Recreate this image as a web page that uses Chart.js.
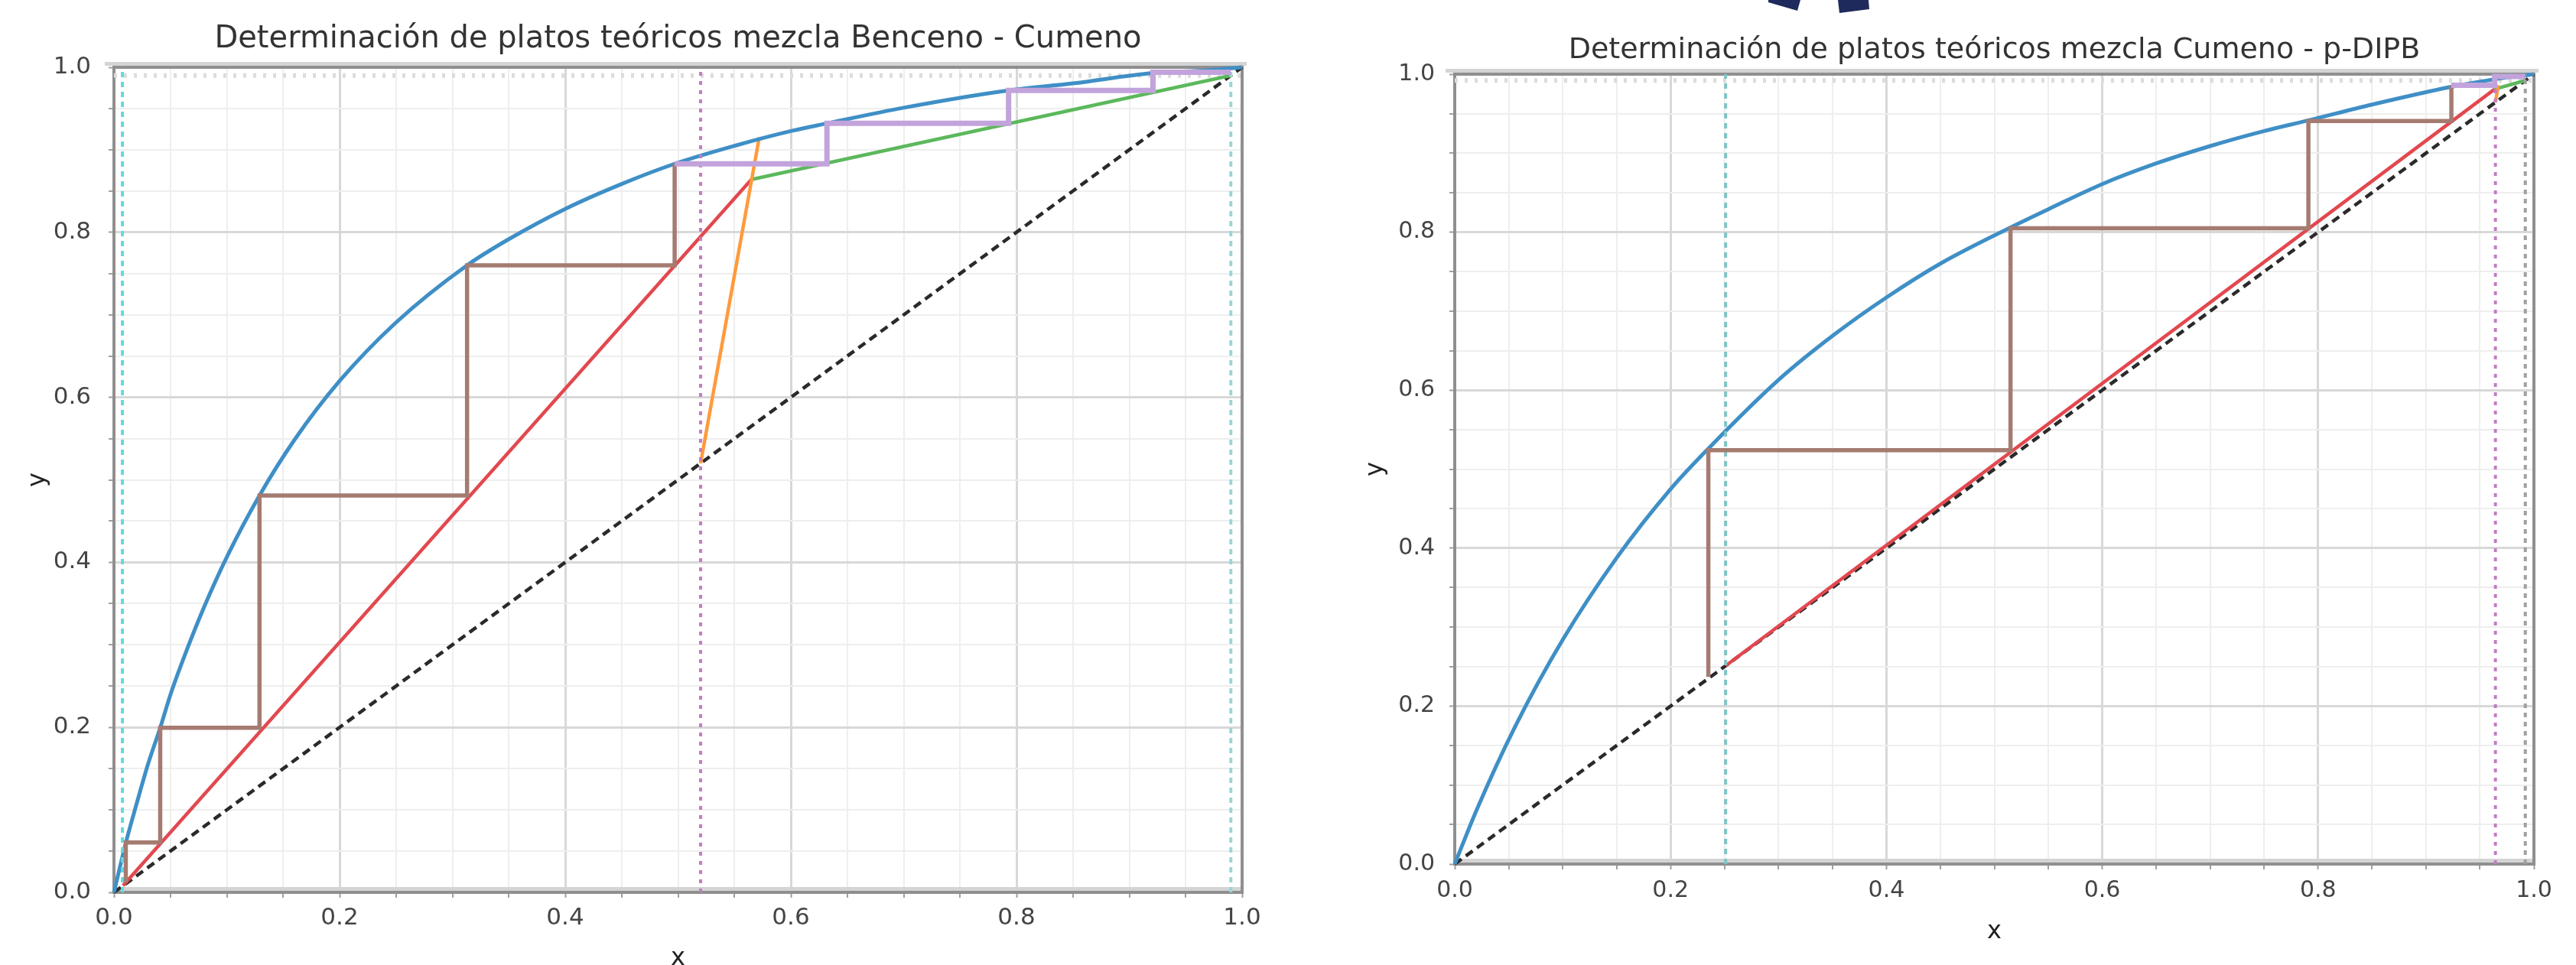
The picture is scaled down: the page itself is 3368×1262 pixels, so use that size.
<!DOCTYPE html>
<html>
<head>
<meta charset="utf-8">
<script src="https://cdn.jsdelivr.net/npm/chart.js@4.4.1/dist/chart.umd.min.js"></script>
<style>
  html, body { margin: 0; padding: 0; background: #fff; overflow: hidden; width: 3368px; height: 1262px; }
  .box { position: absolute; top: 0; }
  svg { position: absolute; left: 0; top: 0; }
</style>
</head>
<body>
<svg width="3368" height="40">
  <polygon points="2312,0 2354,0 2350,14 2312,3" fill="#1f2a5c"/>
  <polygon points="2403,0 2443,0 2444,12 2405,17" fill="#1f2a5c"/>
</svg>
<div class="box" style="left:0px;width:1700px;height:1290px"><canvas id="chart1" width="1700" height="1290"></canvas></div>
<div class="box" style="left:1700px;width:1668px;height:1290px"><canvas id="chart2" width="1668" height="1290"></canvas></div>
<script>
// --- Benceno - Cumeno (left) ---
const eqX1 = [0, 0.0105, 0.02, 0.03, 0.041, 0.05, 0.06, 0.08, 0.1, 0.129, 0.16, 0.2, 0.25, 0.313, 0.35, 0.4, 0.45, 0.497, 0.55, 0.6, 0.632, 0.7, 0.793, 0.85, 0.921, 0.96, 1];
const eqY1 = [0, 0.06, 0.107, 0.1545, 0.1995, 0.2394, 0.2775, 0.3461, 0.4063, 0.481, 0.5484, 0.6198, 0.6907, 0.76, 0.7917, 0.8284, 0.8586, 0.883, 0.9048, 0.9227, 0.932, 0.951, 0.972, 0.9805, 0.993, 0.9955, 1];
const rectX1 = [0.565, 0.99];
const rectY1 = [0.864, 0.99];
const stripX1 = [0.008, 0.565];
const stripY1 = [0.008, 0.864];
const qX1 = [0.52, 0.572];
const qY1 = [0.52, 0.915];
const platesRX1 = [0.99, 0.921, 0.921, 0.793, 0.793, 0.632, 0.632, 0.497];
const platesRY1 = [0.994, 0.994, 0.972, 0.972, 0.932, 0.932, 0.883, 0.883];
const platesSX1 = [0.497, 0.497, 0.313, 0.313, 0.129, 0.129, 0.041, 0.041, 0.0105, 0.0105];
const platesSY1 = [0.883, 0.76, 0.76, 0.481, 0.481, 0.1995, 0.1995, 0.0605, 0.0605, 0.012];
const xD1 = 0.99, xF1 = 0.52, xB1 = 0.0075;

// --- Cumeno - p-DIPB (right) ---
const eqX2 = [0, 0.02, 0.0553, 0.1, 0.15, 0.2, 0.235, 0.3, 0.35, 0.4, 0.45, 0.515, 0.55, 0.6, 0.65, 0.7, 0.75, 0.791, 0.85, 0.9235, 0.9636, 1];
const eqY2 = [0, 0.0676, 0.1722, 0.2838, 0.3876, 0.4747, 0.526, 0.6129, 0.6686, 0.7173, 0.7602, 0.806, 0.829, 0.8609, 0.887, 0.909, 0.928, 0.9415, 0.9615, 0.984, 0.9936, 1];
const rectX2 = [0.9636, 0.992];
const rectY2 = [0.981, 0.992];
const stripX2 = [0.251, 0.9636];
const stripY2 = [0.251, 0.981];
const qX2 = [0.9643, 0.967];
const qY2 = [0.9643, 0.986];
const platesRX2 = [0.992, 0.9636, 0.9636, 0.9235];
const platesRY2 = [0.997, 0.997, 0.986, 0.986];
const platesSX2 = [0.9235, 0.9235, 0.791, 0.791, 0.515, 0.515, 0.235, 0.235];
const platesSY2 = [0.986, 0.9406, 0.9406, 0.805, 0.805, 0.524, 0.524, 0.237];
const xD2 = 0.992, xF2 = 0.9643, xB2 = 0.251;

const diagX = [0, 1];
const diagY = [0, 1];

const FONT = 'DejaVu Sans';
const isMajor = v => Math.abs(v * 5 - Math.round(v * 5)) < 1e-6;

function seg(xs, ys, color, width, dash, smooth) {
  return {
    data: xs.map((x, i) => ({x: x, y: ys[i]})),
    showLine: true,
    borderColor: color,
    backgroundColor: color,
    borderWidth: width,
    borderDash: dash || [],
    pointRadius: 0,
    fill: false,
    tension: 0,
    cubicInterpolationMode: smooth ? 'monotone' : 'default',
    clip: 8
  };
}

// frame round the plot area, like the matplotlib spines
const framePlugin = {
  id: 'frame',
  beforeDatasetsDraw(chart) {
    const {ctx, chartArea: a} = chart;
    ctx.save();
    ctx.fillStyle = '#d4d4d4';
    ctx.fillRect(a.left - 12, a.top - 7, a.right - a.left + 18, 5);
    ctx.fillRect(a.left, a.bottom - 7, a.right - a.left, 5);
    ctx.strokeStyle = '#8f8f8f';
    ctx.lineWidth = 4;
    ctx.strokeRect(a.left, a.top, a.right - a.left, a.bottom - a.top);
    ctx.restore();
  }
};

function gridOpts() {
  return {
    color: c => (c.tick && isMajor(c.tick.value)) ? '#d8d8d8' : '#eeeeee',
    lineWidth: c => (c.tick && isMajor(c.tick.value)) ? 3 : 2,
    tickLength: 7,
    tickColor: '#a0a0a0',
    tickWidth: 2
  };
}

function makeChart(id, title, L, datasets) {
  new Chart(document.getElementById(id).getContext('2d'), {
    type: 'scatter',
    data: {datasets: datasets},
    plugins: [framePlugin],
    options: {
      responsive: false,
      animation: false,
      devicePixelRatio: 1,
      layout: {padding: {left: 0, right: L.padRight, top: 0, bottom: 0}},
      plugins: {
        legend: {display: false},
        tooltip: {enabled: false},
        title: {
          display: true,
          text: title,
          fullSize: false,
          color: '#333',
          font: {family: FONT, size: L.titleSize, weight: 'normal', lineHeight: 1.2},
          padding: {top: L.titleTop, bottom: L.titleBottom}
        }
      },
      scales: {
        x: {
          type: 'linear', min: 0, max: 1,
          afterFit: s => { s.height = L.xH; },
          border: {display: false},
          grid: gridOpts(),
          ticks: {
            stepSize: 0.05, autoSkip: false, maxRotation: 0, minRotation: 0,
            padding: L.xTickPad, color: '#444',
            font: {family: FONT, size: L.tickSize},
            callback: v => isMajor(v) ? v.toFixed(1) : ''
          },
          title: {
            display: true, text: 'x', color: '#222',
            font: {family: FONT, size: 32, lineHeight: 1.2},
            padding: {top: 0, bottom: L.xTitlePad}
          }
        },
        y: {
          type: 'linear', min: 0, max: 1,
          afterFit: s => { s.width = L.yW; },
          border: {display: false},
          grid: gridOpts(),
          ticks: {
            stepSize: 0.05, autoSkip: false,
            padding: L.yTickPad, color: '#444',
            font: {family: FONT, size: L.tickSize},
            callback: v => isMajor(v) ? v.toFixed(1) : ''
          },
          title: {
            display: true, text: 'y', color: '#222',
            font: {family: FONT, size: 32, lineHeight: 1.2},
            padding: {top: L.yTitlePad, bottom: 0}
          }
        }
      }
    }
  });
}

const vline = (x, color, width, dash) => seg([x, x], [0, 1], color, width, dash);
const hline = (y, color, width, dash) => seg([0, 1], [y, y], color, width, dash);

makeChart('chart1', 'Determinación de platos teóricos mezcla Benceno - Cumeno',
  {padRight: 76, yW: 149, xH: 123, titleSize: 40, titleTop: 28, titleBottom: 12,
   tickSize: 31, xTickPad: 8, yTickPad: 23, xTitlePad: 17.6, yTitlePad: 30.6},
  [
    seg(platesRX1, platesRY1, '#c2a3dc', 7),
    seg(platesSX1, platesSY1, '#a57b71', 5.5),
    vline(xF1, '#c47cc4', 4, [5, 7]),
    vline(xB1, '#63dada', 4, [7, 6]),
    vline(xD1, '#9ad6d6', 4, [7, 6]),
    seg(eqX1, eqY1, '#3f8fc6', 5, null, true),
    seg(qX1, qY1, '#ff9a3c', 4.5),
    seg(rectX1, rectY1, '#5cb85c', 4.5),
    seg(stripX1, stripY1, '#e2484f', 4.5),
    seg(diagX, diagY, '#2a2a2a', 4.5, [11, 7]),
    hline(xD1, '#dcdcdc', 6, [4, 9])
  ]);

makeChart('chart2', 'Determinación de platos teóricos mezcla Cumeno - p-DIPB',
  {padRight: 55, yW: 202, xH: 160, titleSize: 38, titleTop: 43, titleBottom: 8.4,
   tickSize: 30, xTickPad: 10, yTickPad: 19, xTitlePad: 52.6, yTitlePad: 79.6},
  [
    seg(platesRX2, platesRY2, '#c2a3dc', 7),
    seg(platesSX2, platesSY2, '#a57b71', 5.5),
    vline(xF2, '#c47cc4', 4, [5, 7]),
    vline(xB2, '#80c4c4', 4, [7, 6]),
    vline(xD2, '#a0a0a0', 4, [6, 6]),
    seg(eqX2, eqY2, '#3f8fc6', 5, null, true),
    seg(qX2, qY2, '#ff9a3c', 4.5),
    seg(rectX2, rectY2, '#5cb85c', 4.5),
    seg(stripX2, stripY2, '#e2484f', 4.5),
    seg(diagX, diagY, '#2a2a2a', 4.5, [11, 7]),
    hline(xD2, '#dcdcdc', 6, [4, 9])
  ]);
</script>
</body>
</html>
